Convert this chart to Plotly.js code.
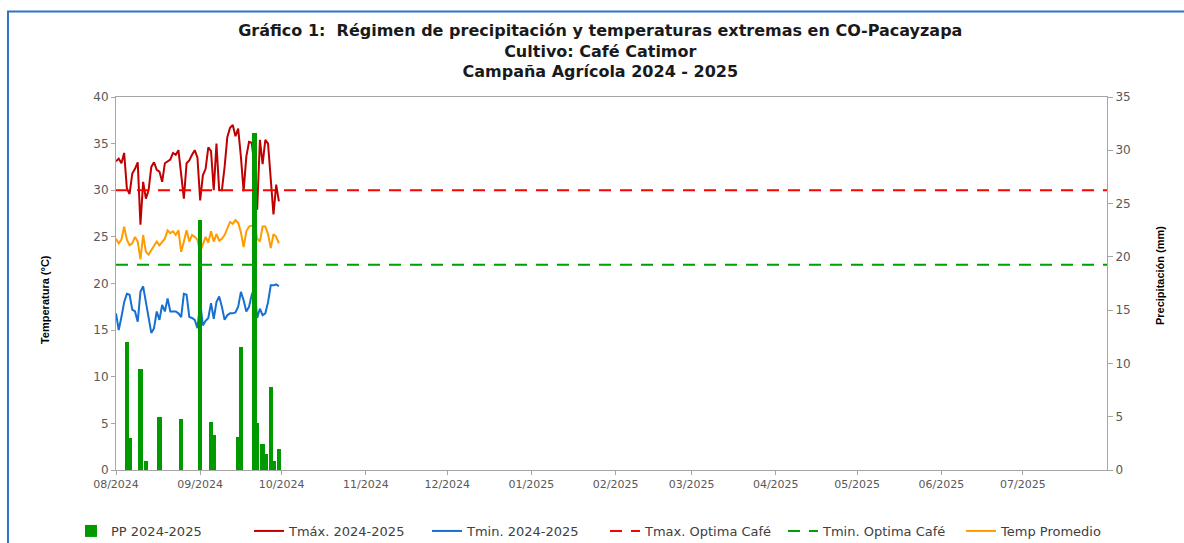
<!DOCTYPE html>
<html>
<head>
<meta charset="utf-8">
<script src="https://cdn.plot.ly/plotly-3.0.1.min.js"></script>
<style>html,body{margin:0;padding:0;background:#fff;}#chart{width:1184px;height:543px;}</style>
</head>
<body>
<div id="chart"></div>
<script>
// ---- data (daily, 01/08/2024 - 30/09/2024) ----
const startDate = '2024-08-01';
const nDays = 61;
const tmax = [33.1,33.4,32.9,34.0,30.2,29.6,31.8,32.3,33.0,26.3,
              30.9,29.1,30.0,32.5,33.0,32.2,32.0,30.9,32.9,33.1,
              33.3,34.0,33.8,34.3,31.5,29.1,32.9,33.2,33.8,34.3,
              33.5,28.9,31.6,32.3,34.6,34.2,30.0,35.0,30.0,30.0,
              32.5,35.7,36.7,37.0,35.8,36.6,33.6,29.9,33.6,35.2,
              35.1,32.5,27.9,35.4,32.8,35.4,35.0,31.0,27.4,30.6,28.8];
const tmin = [16.8,15.0,16.4,18.0,18.9,18.8,17.2,17.0,15.9,19.1,
              19.7,17.9,16.1,14.7,15.2,17.0,16.1,17.7,17.0,18.4,
              17.0,17.0,17.0,16.8,16.4,18.9,18.8,16.4,16.3,16.1,
              15.2,18.0,15.5,16.0,16.3,17.9,16.2,18.0,18.6,17.5,
              16.1,16.6,16.8,16.8,16.9,17.5,19.1,18.2,17.0,17.5,
              18.8,19.5,16.3,17.3,16.6,16.8,18.0,19.8,19.8,19.9,19.7];
const tavg = [24.8,24.3,24.7,26.1,24.7,24.1,24.3,25.0,24.5,22.6,
              25.2,23.4,23.1,23.6,24.0,24.5,24.1,24.5,24.8,25.7,
              25.4,25.6,25.2,25.7,23.4,24.5,25.7,24.5,25.2,25.0,
              24.7,23.4,24.3,25.0,24.4,25.6,24.5,25.3,24.6,24.8,
              25.2,25.9,26.6,26.4,26.8,26.5,25.5,23.9,25.6,26.1,
              26.2,26.3,24.8,24.5,26.1,26.1,25.3,23.8,25.3,25.0,24.3];
const pp   = [0,0,0,0,12.0,3.0,0,0,0,9.5,
              0,0.8,0,0,0,0,5.0,0,0,0,
              0,0,0,0,4.8,0,0,0,0,0,
              0,23.5,0,0,0,4.5,3.3,0,0,0,
              0,0,0,0,0,3.1,11.5,0,0,0,
              0,31.6,4.4,0,2.4,1.5,0,7.8,0.8,0,2.0];
const tmaxOptima = 30;
const tminOptima = 22;
const campaignRange = ['2024-08-01','2025-08-01'];
const monthTicks = ['2024-08-01','2024-09-01','2024-10-01','2024-11-01','2024-12-01','2025-01-01',
                    '2025-02-01','2025-03-01','2025-04-01','2025-05-01','2025-06-01','2025-07-01'];
const monthLabels = ['08/2024','09/2024','10/2024','11/2024','12/2024','01/2025',
                     '02/2025','03/2025','04/2025','05/2025','06/2025','07/2025'];

// build date list
const dates = [];
for (let i = 0; i < nDays; i++) {
  const d = new Date(startDate + 'T00:00:00Z');
  d.setUTCDate(d.getUTCDate() + i);
  dates.push(d.toISOString().slice(0,10));
}
const DAY = 86400000;

const traces = [
  {type:'scatter', mode:'lines', name:'Tmáx. 2024-2025', x:dates, y:tmax, yaxis:'y',
   line:{color:'#C00000', width:2}, legendrank:2},
  {type:'scatter', mode:'lines', name:'Tmin. 2024-2025', x:dates, y:tmin, yaxis:'y',
   line:{color:'#1670D2', width:2}, legendrank:3},
  {type:'scatter', mode:'lines', name:'Temp Promedio', x:dates, y:tavg, yaxis:'y',
   line:{color:'#FF9C00', width:2}, legendrank:6},
  {type:'bar', name:'PP 2024-2025', x:dates, y:pp, yaxis:'y2',
   marker:{color:'#009A00', line:{width:0}}, width:1.6*DAY, legendrank:1},
  {type:'scatter', mode:'lines', name:'Tmax. Optima Café', x:campaignRange, y:[tmaxOptima,tmaxOptima], yaxis:'y3',
   line:{color:'#FF0000', width:2, dash:'12px,9px'}, legendrank:4},
  {type:'scatter', mode:'lines', name:'Tmin. Optima Café', x:campaignRange, y:[tminOptima,tminOptima], yaxis:'y3',
   line:{color:'#00A000', width:2, dash:'12px,9px'}, legendrank:5}
];

const axisGray = '#A6A6A6';
const tickFont = {family:'DejaVu Sans, Verdana, sans-serif', size:12, color:'#595959'};

const layout = {
  width:1184, height:543,
  margin:{l:116, r:77, t:97, b:73, pad:0, autoexpand:false},
  paper_bgcolor:'#ffffff', plot_bgcolor:'#ffffff',
  showlegend:true,
  title:{
    text:'Gráfico 1:\u00a0 Régimen de precipitación y temperaturas extremas en CO-Pacayzapa<br>Cultivo: Café Catimor<br>Campaña Agrícola 2024 - 2025',
    x:0.507, xanchor:'center', xref:'container',
    y:0.934, yanchor:'top', yref:'container',
    font:{family:'DejaVu Sans, Verdana, sans-serif', size:16, color:'#1a1a1a', weight:'bold'}
  },
  xaxis:{
    type:'date', range:campaignRange,
    tickmode:'array', tickvals:monthTicks, ticktext:monthLabels,
    tickfont:{family:'DejaVu Sans, Verdana, sans-serif', size:11, color:'#595959'},
    ticks:'outside', ticklen:4, tickcolor:axisGray,
    showline:true, linecolor:axisGray, linewidth:1, mirror:true,
    showgrid:false, zeroline:false
  },
  yaxis:{
    range:[0,40], dtick:5, tick0:0,
    tickfont:tickFont, ticks:'outside', ticklen:4, tickcolor:axisGray,
    showline:true, linecolor:axisGray, linewidth:1,
    showgrid:false, zeroline:false
  },
  yaxis2:{
    range:[0,35], dtick:5, tick0:0, overlaying:'y', side:'right',
    tickfont:tickFont, ticks:'outside', ticklen:5, tickcolor:axisGray,
    showline:true, linecolor:axisGray, linewidth:1,
    showgrid:false, zeroline:false
  },
  yaxis3:{
    range:[0,40], overlaying:'y', side:'left', visible:false,
    showgrid:false, zeroline:false
  },
  bargap:0,
  legend:{
    orientation:'h', xref:'paper', yref:'paper',
    x:-0.0454, xanchor:'left', y:-0.1635, yanchor:'middle',
    font:{family:'DejaVu Sans, sans-serif', size:13, color:'#404040'},
    bgcolor:'rgba(0,0,0,0)', traceorder:'normal', itemwidth:30,
    entrywidth:133, entrywidthmode:'pixels'
  },
  annotations:[
    {text:'Temperatura (°C)', xref:'paper', yref:'paper', x:-0.0716, y:0.4558,
     xanchor:'center', yanchor:'middle', textangle:-90, showarrow:false,
     font:{family:'Liberation Sans Narrow, Liberation Sans, Arial, sans-serif', size:11, color:'#000', weight:'bold'}},
    {text:'Precipitación (mm)', xref:'paper', yref:'paper', x:1.0535, y:0.520,
     xanchor:'center', yanchor:'middle', textangle:-90, showarrow:false,
     font:{family:'Liberation Sans Narrow, Liberation Sans, Arial, sans-serif', size:11, color:'#000', weight:'bold'}}
  ],
  shapes:[
    {type:'rect', xref:'paper', yref:'paper', x0:-0.109, x1:1.09, y0:-0.25, y1:1.2292,
     line:{color:'#2E74C6', width:2}, fillcolor:'rgba(0,0,0,0)', layer:'above'}
  ]
};

Plotly.newPlot('chart', traces, layout, {displayModeBar:false, staticPlot:true});
</script>
</body>
</html>
